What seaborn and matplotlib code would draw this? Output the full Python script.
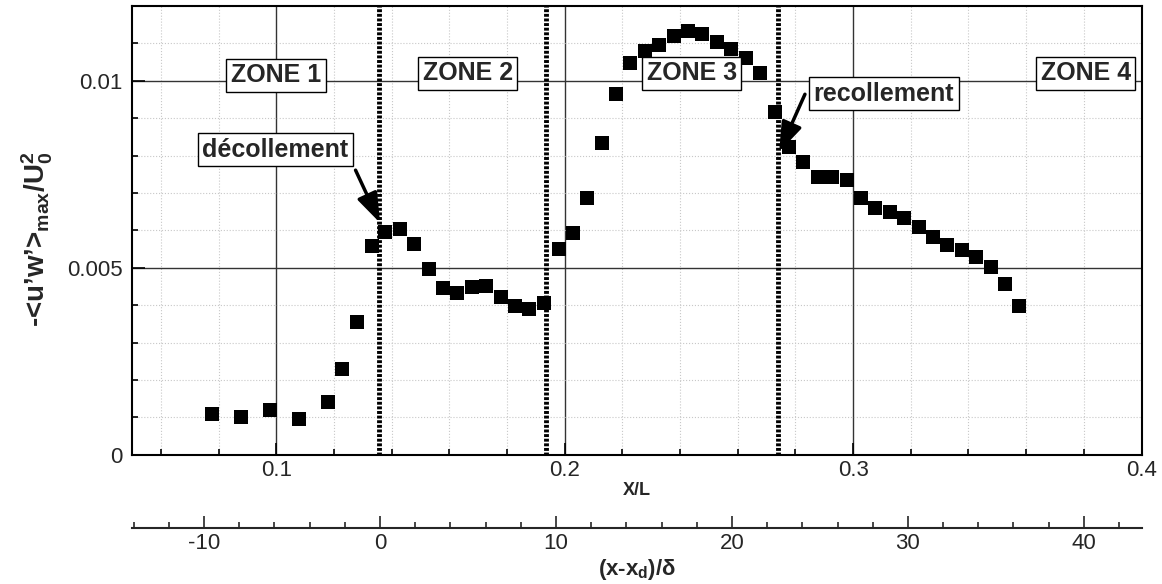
import matplotlib
matplotlib.use("Agg")
import matplotlib.pyplot as plt
import seaborn as sns
import pandas as pd
from matplotlib.ticker import MultipleLocator, FixedLocator, FuncFormatter

# data
xl = [0.0778, 0.0879, 0.0978, 0.1080, 0.1180, 0.1229, 0.1280, 0.1331, 0.1377, 0.1430,
      0.1479, 0.1531, 0.1579, 0.1628, 0.1680, 0.1728, 0.1780, 0.1829, 0.1877, 0.1929,
      0.1979, 0.2030, 0.2078, 0.2130, 0.2179, 0.2227, 0.2279, 0.2328, 0.2380, 0.2428,
      0.2477, 0.2529, 0.2577, 0.2629, 0.2677, 0.2730, 0.2778, 0.2827, 0.2879, 0.2927,
      0.2979, 0.3028, 0.3076, 0.3128, 0.3177, 0.3229, 0.3278, 0.3326, 0.3378, 0.3427,
      0.3478, 0.3527, 0.3576]
uw = [0.00108, 0.00101, 0.00120, 0.00095, 0.00140, 0.00229, 0.00354, 0.00557, 0.00595, 0.00603,
      0.00563, 0.00496, 0.00445, 0.00432, 0.00448, 0.00450, 0.00421, 0.00399, 0.00389, 0.00405,
      0.00549, 0.00592, 0.00687, 0.00833, 0.00964, 0.01047, 0.01079, 0.01097, 0.01119, 0.01132,
      0.01124, 0.01103, 0.01084, 0.01060, 0.01020, 0.00916, 0.00822, 0.00784, 0.00743, 0.00742,
      0.00734, 0.00686, 0.00660, 0.00648, 0.00632, 0.00608, 0.00581, 0.00560, 0.00547, 0.00530,
      0.00501, 0.00456, 0.00399]

# zone boundaries (X/L)
zone_bounds = [0.1357, 0.1934, 0.2738]
zone_names = ["ZONE 1", "ZONE 2", "ZONE 3", "ZONE 4"]
zone_x = [0.0999, 0.1664, 0.2441, 0.3807]
zone_y = [0.01015, 0.0102, 0.0102, 0.0102]

# (x - x_d)/delta ticks
sec_ticks = [-10, 0, 10, 20, 30, 40]

# secondary axis: (x - x_d)/delta
XD = 0.136
DELTA = 0.0061

df = pd.DataFrame({"xl": xl, "uw": uw})

sns.set_style("ticks")
plt.rcParams["font.family"] = ["Liberation Sans", "DejaVu Sans"]
plt.rcParams["axes.unicode_minus"] = False
plt.rcParams["mathtext.fontset"] = "custom"
plt.rcParams["mathtext.rm"] = "Liberation Sans:bold"
plt.rcParams["mathtext.it"] = "Liberation Sans:bold"
plt.rcParams["mathtext.bf"] = "Liberation Sans:bold"
plt.rcParams["mathtext.default"] = "rm"

fig, ax = plt.subplots(figsize=(11.62, 5.84), dpi=100)
fig.subplots_adjust(left=0.1136, right=0.9824, top=0.9897, bottom=0.2214)

sns.scatterplot(data=df, x="xl", y="uw", marker="s", color="black", s=90,
                linewidth=0, ax=ax, zorder=4)

ax.set_xlim(0.05, 0.4)
ax.set_ylim(0, 0.012)
ax.xaxis.set_major_locator(MultipleLocator(0.1))
ax.xaxis.set_minor_locator(MultipleLocator(0.02))
ax.yaxis.set_major_locator(MultipleLocator(0.005))
ax.yaxis.set_minor_locator(MultipleLocator(0.001))
ax.xaxis.set_major_formatter(FuncFormatter(lambda v, p: "%g" % round(v, 4)))
ax.yaxis.set_major_formatter(FuncFormatter(lambda v, p: "%g" % round(v, 5)))

ax.grid(True, which="major", color="#333333", lw=1.0, zorder=1)
ax.grid(True, which="minor", color="#c8c8c8", lw=0.8, ls=":", zorder=0)
ax.set_axisbelow(True)

for s in ax.spines.values():
    s.set_linewidth(1.5)
    s.set_color("black")

ax.tick_params(which="both", direction="in", top=False, right=False,
               labelsize=16, width=1.2, color="black")
ax.tick_params(which="major", length=9)
ax.tick_params(which="minor", length=4.5)
ax.tick_params(axis="y", pad=7)
ax.tick_params(axis="x", pad=4)

for b in zone_bounds:
    ax.axvline(b, color="black", lw=3.5, ls=(0, (0.6, 0.35)), zorder=3)

box = dict(boxstyle="square,pad=0.18", fc="white", ec="black", lw=1)
for name, zx, zy in zip(zone_names, zone_x, zone_y):
    ax.text(zx, zy, name, ha="center", va="center", fontsize=18,
            fontweight="bold", bbox=box, zorder=6)

ax.text(0.0996, 0.00815, "décollement", ha="center", va="center", fontsize=18,
        fontweight="bold", bbox=box, zorder=6)
ax.text(0.3107, 0.00966, "recollement", ha="center", va="center", fontsize=18,
        fontweight="bold", bbox=box, zorder=6)

arrow = dict(arrowstyle="-|>,head_length=0.9,head_width=0.32", color="black",
             lw=2.5, mutation_scale=20, shrinkA=0, shrinkB=0)
ax.annotate("", xy=(0.1360, 0.0062), xytext=(0.1275, 0.00761),
            arrowprops=arrow, zorder=6)
ax.annotate("", xy=(0.2744, 0.0081), xytext=(0.2833, 0.00964),
            arrowprops=arrow, zorder=6)

ax.set_xlabel("")
ax.set_ylabel(r"-<u’w’>$_{max}$/U$_0^2$", fontsize=20, fontweight="bold")
ax.yaxis.set_label_coords(-0.076, 0.48)
ax.text(0.5, -0.0787, "X/L", transform=ax.transAxes, ha="center", va="center",
        fontsize=13, fontweight="bold")

secax = ax.secondary_xaxis(-0.1627, functions=(lambda x: (x - XD) / DELTA,
                                                lambda s: s * DELTA + XD))
secax.xaxis.set_major_locator(FixedLocator(sec_ticks))
secax.xaxis.set_minor_locator(MultipleLocator(2))
secax.xaxis.set_major_formatter(FuncFormatter(lambda v, p: "%d" % round(v)))
secax.spines["bottom"].set_linewidth(1.5)
secax.tick_params(which="both", direction="in", labelsize=16, width=1.2, pad=4)
secax.tick_params(which="major", length=9)
secax.tick_params(which="minor", length=4.5)
ax.text(0.5, -0.255, "(x-x$_d$)/δ", transform=ax.transAxes, ha="center",
        va="center", fontsize=16, fontweight="bold")

fig.savefig("out.png", dpi=100)
